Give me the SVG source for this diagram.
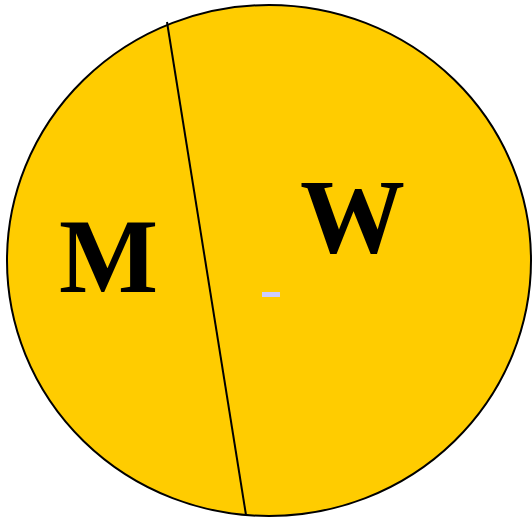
<svg xmlns="http://www.w3.org/2000/svg" width="532" height="517" viewBox="0 0 532 517">
<style>
.lbl{font-family:"Liberation Serif","Times New Roman",serif;font-weight:bold;font-size:105px;fill:#000}
</style>
<rect width="532" height="517" fill="#fff"/>
<g id="circle">
<ellipse cx="269" cy="260.5" rx="262" ry="255.5" fill="#ffcc00" stroke="#000" stroke-width="2"/>
</g>
<g id="connectors">
<line x1="167" y1="22" x2="246" y2="515" stroke="#000" stroke-width="2"/>
</g>
<g id="M"><text class="lbl" x="59" y="292">M</text></g>
<g id="W"><text class="lbl" x="300" y="252">W</text></g>
<g id="dash"><rect x="262" y="292" width="18" height="5" fill="#ccccff"/></g>
</svg>
